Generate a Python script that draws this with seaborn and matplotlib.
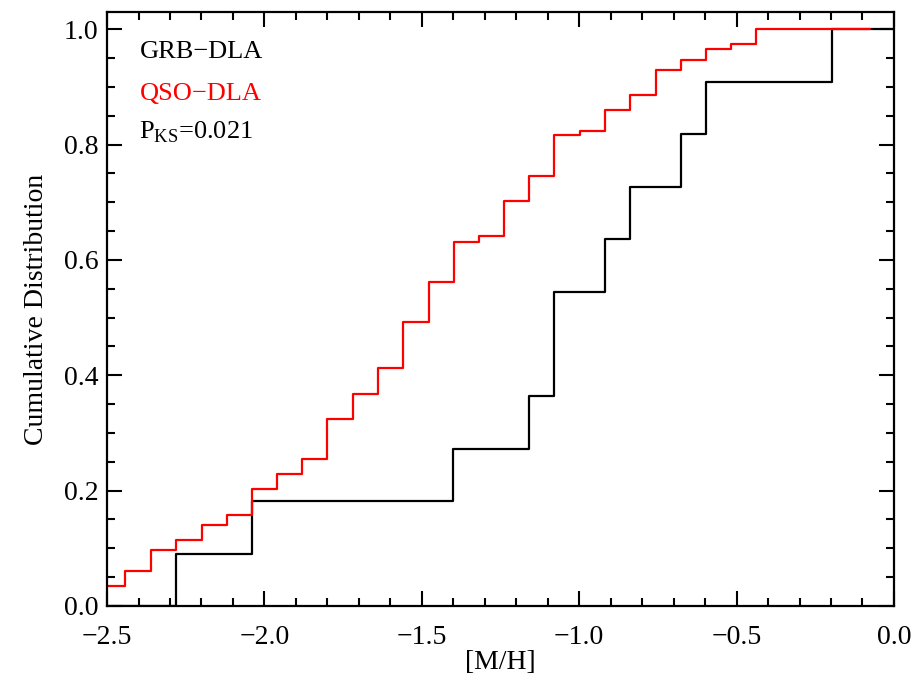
import numpy as np
import pandas as pd
import matplotlib
matplotlib.use("Agg")
import matplotlib.pyplot as plt
from matplotlib.ticker import MultipleLocator
import seaborn as sns

# GRB-DLA cumulative distribution (step edges and levels)
grb_x = [-2.5, -2.281, -2.039, -1.400, -1.159, -1.080, -0.917, -0.839, -0.678, -0.598, -0.198, 0.0]
grb_y = [0.0, 0.091, 0.182, 0.273, 0.364, 0.545, 0.636, 0.727, 0.818, 0.909, 1.0, 1.0]

# QSO-DLA cumulative distribution (step edges and levels)
qso_x = [-2.5, -2.442, -2.360, -2.280, -2.199, -2.119, -2.039, -1.959, -1.880, -1.800,
         -1.718, -1.638, -1.559, -1.478, -1.399, -1.318, -1.239, -1.159, -1.079, -0.998,
         -0.917, -0.839, -0.757, -0.678, -0.598, -0.518, -0.438, -0.076]
qso_y = [0.035, 0.061, 0.097, 0.114, 0.140, 0.158, 0.202, 0.228, 0.254, 0.324,
         0.368, 0.413, 0.493, 0.562, 0.631, 0.641, 0.702, 0.746, 0.816, 0.824,
         0.860, 0.886, 0.930, 0.947, 0.965, 0.974, 1.0, 1.0]

x_ticks = [-2.5, -2.0, -1.5, -1.0, -0.5, 0.0]
y_ticks = [0.0, 0.2, 0.4, 0.6, 0.8, 1.0]
series_labels = ["GRB\u2212DLA", "QSO\u2212DLA"]
p_ks = 0.021

sns.set_theme(style="ticks")
plt.rcParams["font.family"] = ["Liberation Serif", "DejaVu Serif"]
plt.rcParams["mathtext.fontset"] = "custom"
plt.rcParams["mathtext.rm"] = "Liberation Serif"
plt.rcParams["axes.unicode_minus"] = True
plt.rcParams["text.color"] = "black"
plt.rcParams["axes.labelcolor"] = "black"
plt.rcParams["xtick.color"] = "black"
plt.rcParams["ytick.color"] = "black"
plt.rcParams["axes.edgecolor"] = "black"

fig = plt.figure(figsize=(9.11, 6.92), dpi=100)
ax = fig.add_axes([0.1175, 0.1243, 0.8638, 0.8584])

df_grb = pd.DataFrame({"x": grb_x, "y": grb_y})
df_qso = pd.DataFrame({"x": qso_x, "y": qso_y})
sns.lineplot(data=df_grb, x="x", y="y", drawstyle="steps-post", color="black",
             lw=1.6, ax=ax, estimator=None, sort=False)
sns.lineplot(data=df_qso, x="x", y="y", drawstyle="steps-post", color="red",
             lw=1.6, ax=ax, estimator=None, sort=False)

ax.set_xlim(-2.5, 0.0)
ax.set_ylim(0.0, 1.03)
ax.set_xticks(x_ticks)
ax.set_yticks(y_ticks)
ax.set_xticklabels([f"{v:.1f}".replace("-", "\u2212") for v in x_ticks])
ax.set_yticklabels([f"{v:.1f}" for v in y_ticks])
ax.xaxis.set_minor_locator(MultipleLocator(0.1))
ax.yaxis.set_minor_locator(MultipleLocator(0.05))
ax.tick_params(which="both", direction="in", top=True, right=True, width=1.5,
               colors="black", labelsize=20)
ax.tick_params(which="major", length=11)
ax.tick_params(which="minor", length=6)
ax.tick_params(axis="x", which="major", pad=14)
ax.tick_params(axis="y", which="major", pad=6)
for s in ax.spines.values():
    s.set_linewidth(1.6)
    s.set_color("black")

ax.set_xlabel("[M/H]", fontsize=20, labelpad=0, color="black")
ax.set_ylabel("Cumulative Distribution", fontsize=20, labelpad=11, color="black")

ax.text(-2.397, 0.951, series_labels[0], color="black", fontsize=19, va="baseline")
ax.text(-2.397, 0.878, series_labels[1], color="red", fontsize=19, va="baseline")
ax.text(-2.397, 0.810, r"P$_{\rm KS}$=" + f"{p_ks:.3f}", color="black", fontsize=19, va="baseline")

fig.savefig("out.png", dpi=100)
